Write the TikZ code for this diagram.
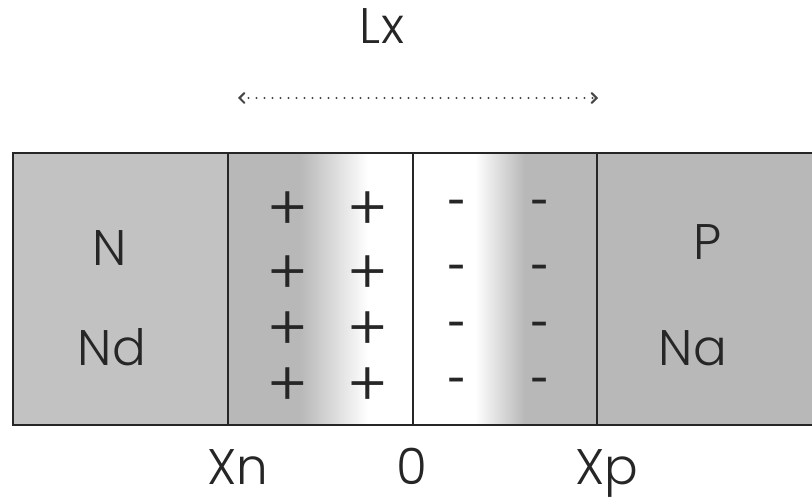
\documentclass[tikz,border=0pt]{standalone}
\usepackage{fontspec}
\setmainfont{Poppins}[UprightFont=* Light]
\newfontfamily\dashfont{Poppins}[UprightFont=* SemiBold]
\usetikzlibrary{arrows.meta}
\definecolor{ngray}{gray}{0.76}
\definecolor{pgray}{gray}{0.72}
\definecolor{dgray}{gray}{0.72}
\definecolor{linec}{gray}{0.15}
\begin{document}
\begin{tikzpicture}[x=1pt,y=-1pt,
  lbl/.style={font=\fontsize{50}{50}\selectfont, text=linec, inner sep=0pt, anchor=base},
  plus/.style={font=\fontsize{62}{62}\selectfont, text=linec, inner sep=0pt, yshift=-4pt},
  minus/.style={font=\dashfont\fontsize{32}{32}\selectfont, text=linec, inner sep=0pt, anchor=base, yshift=-9pt},
  border/.style={draw=linec, line width=1.6pt}]
\useasboundingbox (0,0) rectangle (812,502);
% regions
\fill[ngray] (13,153) rectangle (228,425);
\fill[dgray] (228,153) rectangle (300,425);
\shade[left color=dgray, right color=white] (300,153) rectangle (368,425);
\fill[white] (368,153) rectangle (475,425);
\shade[left color=white, right color=pgray] (475,153) rectangle (525,425);
\fill[pgray] (525,153) rectangle (830,425);
% borders
\draw[border] (830,153) -- (13,153) -- (13,425) -- (830,425);
\draw[border] (228,153) -- (228,425);
\draw[border] (413,153) -- (413,425);
\draw[border] (597,153) -- (597,425);
% arrow
\coordinate (al) at (238,98);
\coordinate (ar) at (598,98);
\draw[gray!55!black, line width=2.2pt, line cap=round, dash pattern=on 0pt off 8pt,
  {Straight Barb[length=5pt,width=10pt,line width=2pt,line cap=round]}-{Straight Barb[length=5pt,width=10pt,line width=2pt,line cap=round]}] (al) -- (ar);
% labels
\node[lbl] (lx) at (382,44) {Lx};
\node[lbl] (n) at (110,266) {N};
\node[lbl] (nd) at (112,366) {Nd};
\node[lbl] (p) at (708,260) {P};
\node[lbl] (na) at (693,366) {Na};
\node[lbl] (xn) at (238,485) {Xn};
\node[lbl] (zero) at (412,485) {0};
\node[lbl] (xp) at (607,485) {Xp};
% charges
\foreach \y [count=\i] in {207,271,327,383} {
  \node[plus] (pa\i) at (288,\y) {+};
  \node[plus] (pb\i) at (368,\y) {+};
}
\foreach \y [count=\i] in {205,270,327,383} {
  \node[minus] (ma\i) at (457,\y) {-};
  \node[minus] (mb\i) at (540,\y) {-};
}
\end{tikzpicture}
\end{document}
